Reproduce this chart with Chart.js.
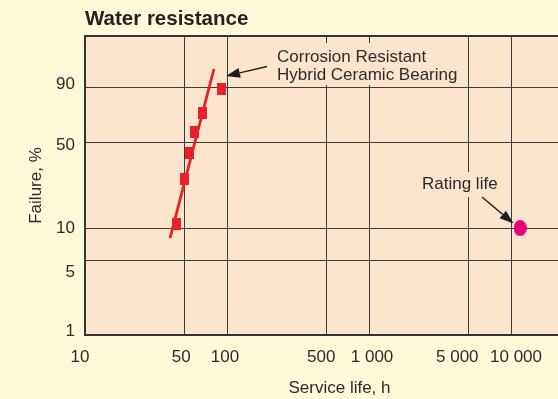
<!DOCTYPE html>
<html>
<head>
<meta charset="utf-8">
<title>Water resistance</title>
<script src="https://cdn.jsdelivr.net/npm/chart.js@4/dist/chart.umd.min.js"></script>
<style>
  html, body { margin: 0; padding: 0; background: #fff9da; overflow: hidden; }
  canvas { display: block; }
</style>
</head>
<body>
<canvas id="chart" width="602" height="399"></canvas>
<script>
// Test results: service life (h) against median-rank failure (%)
const serviceLifeH = [44, 50, 54, 59, 67, 91];
const failurePct = [10.9, 26.4, 42.1, 57.9, 73.6, 89.1];

// End points of the fitted Weibull line
const fitLifeH = [39.7, 80.9];
const fitFailurePct = [8.1, 96.9];

// Calculated rating life
const ratingLifeH = [11600];
const ratingFailurePct = [10];

// Axis ticks
const xTicks = [10, 50, 100, 500, 1000, 5000, 10000];
const yTicks = [1, 5, 10, 50, 90];

// Weibull probability paper: y = ln(-ln(1 - F))
const weibull = p => Math.log(-Math.log(1 - p / 100));
const Y_MIN = weibull(1);
const Y_MAX = 1.97;
const X_MIN = 10;
const X_MAX = 38400;

// Small nudges (px) that set each tick label off its grid line
const yLabelNudge = { 1: -4, 5: 11, 10: 0, 50: 3, 90: -3 };      // + is down
const xLabelNudge = { 10: -5, 50: -3, 100: -2, 500: -5, 1000: 3, 5000: -11, 10000: 5 }; // + is right

const INK = '#2b2b2b';
const GRID = '#3a3a3a';
const FRAME = '#333333';
const PLOT_BG = '#fde4cc';
const RED = '#e8202a';
const MAGENTA = '#e5007e';
const FONT = '"Liberation Sans", Arial, Helvetica, sans-serif';

Chart.defaults.font.family = FONT;
Chart.defaults.color = INK;

// Marker sprites
function sprite(w, h, color, round) {
  const c = document.createElement('canvas');
  c.width = w; c.height = h;
  const g = c.getContext('2d');
  g.fillStyle = color;
  if (round) {
    g.beginPath();
    g.ellipse(w / 2, h / 2, w / 2, h / 2, 0, 0, Math.PI * 2);
    g.fill();
  } else {
    g.fillRect(0, 0, w, h);
  }
  return c;
}
const squareMark = sprite(9, 12, RED, false);
const dotMark = sprite(13, 16, MAGENTA, true);

const fmtThousands = v => String(v).replace(/\B(?=(\d{3})+(?!\d))/g, ' ');

function arrow(ctx, x0, y0, x1, y1) {
  const ang = Math.atan2(y1 - y0, x1 - x0);
  const len = 14, half = 5;
  const bx = x1 - len * Math.cos(ang), by = y1 - len * Math.sin(ang);
  ctx.save();
  ctx.strokeStyle = '#1e1e1e';
  ctx.fillStyle = '#1e1e1e';
  ctx.lineWidth = 1.4;
  ctx.beginPath();
  ctx.moveTo(x0, y0);
  ctx.lineTo(bx, by);
  ctx.stroke();
  ctx.beginPath();
  ctx.moveTo(x1, y1);
  ctx.lineTo(bx - half * Math.sin(ang), by + half * Math.cos(ang));
  ctx.lineTo(bx + half * Math.sin(ang), by - half * Math.cos(ang));
  ctx.closePath();
  ctx.fill();
  ctx.restore();
}

function labelBlock(ctx, lines, x, baseline, lineStep, patch) {
  ctx.save();
  ctx.fillStyle = PLOT_BG;
  ctx.fillRect(patch[0], patch[1], patch[2], patch[3]);
  ctx.fillStyle = INK;
  ctx.font = '17px ' + FONT;
  ctx.textAlign = 'left';
  ctx.textBaseline = 'alphabetic';
  lines.forEach((t, i) => ctx.fillText(t, x, baseline + i * lineStep));
  ctx.restore();
}

const decor = {
  id: 'decor',
  beforeDraw(chart) {
    const { ctx, chartArea: a } = chart;
    ctx.save();
    ctx.fillStyle = PLOT_BG;
    ctx.fillRect(a.left, a.top, a.right - a.left, a.bottom - a.top);
    ctx.restore();
  },
  beforeDatasetsDraw(chart) {
    const { ctx, chartArea: a } = chart;
    ctx.save();
    ctx.strokeStyle = FRAME;
    ctx.lineWidth = 2;
    ctx.beginPath();
    ctx.moveTo(a.left - 1, a.top);
    ctx.lineTo(a.right, a.top);
    ctx.stroke();
    ctx.restore();
    labelBlock(ctx, ['Corrosion Resistant', 'Hybrid Ceramic Bearing'], 277, 61.5, 18.5, [273, 43, 188, 42]);
    labelBlock(ctx, ['Rating life'], 422, 189, 0, [418, 172, 83, 25]);
  },
  afterDatasetsDraw(chart) {
    const { ctx } = chart;
    arrow(ctx, 267, 66.5, 226, 76);
    arrow(ctx, 482, 197, 513.5, 223.5);
  },
  afterDraw(chart) {
    const { ctx } = chart;
    ctx.save();
    ctx.fillStyle = '#222';
    ctx.font = 'bold 20.5px ' + FONT;
    ctx.textAlign = 'left';
    ctx.textBaseline = 'alphabetic';
    ctx.fillText('Water resistance', 85, 25);
    ctx.restore();
  }
};

const axisFont = { size: 17 };

new Chart(document.getElementById('chart'), {
  type: 'scatter',
  data: {
    datasets: [
      {
        label: 'Corrosion Resistant Hybrid Ceramic Bearing',
        data: serviceLifeH.map((h, i) => ({ x: h, y: weibull(failurePct[i]) })),
        pointStyle: squareMark,
        pointRadius: 6,
        showLine: false,
        order: 0
      },
      {
        label: 'Weibull fit',
        data: fitLifeH.map((h, i) => ({ x: h, y: weibull(fitFailurePct[i]) })),
        showLine: true,
        borderColor: RED,
        borderWidth: 2.8,
        pointRadius: 0,
        order: 1
      },
      {
        label: 'Rating life',
        data: ratingLifeH.map((h, i) => ({ x: h, y: weibull(ratingFailurePct[i]) })),
        pointStyle: dotMark,
        pointRadius: 7,
        showLine: false,
        order: 0
      }
    ]
  },
  options: {
    responsive: false,
    animation: false,
    layout: { padding: { top: 36, left: 0, right: 0, bottom: 0 } },
    plugins: { legend: { display: false }, tooltip: { enabled: false } },
    scales: {
      // service life: grid lines and frame
      x: {
        type: 'logarithmic',
        position: 'bottom',
        weight: 0,
        min: X_MIN,
        max: X_MAX,
        afterBuildTicks: s => { s.ticks = xTicks.map(v => ({ value: v })); },
        afterFit: s => { s.height = 0; s.paddingLeft = 0; s.paddingRight = 0; },
        grid: { color: GRID, lineWidth: 1, drawTicks: false },
        border: { color: FRAME, width: 2 },
        ticks: { display: false }
      },
      // service life: tick labels and title
      xLab: {
        type: 'logarithmic',
        position: 'bottom',
        weight: 1,
        min: X_MIN,
        max: X_MAX,
        afterBuildTicks: s => {
          const ppd = (s.width > 0 ? s.width : 509) / Math.log10(X_MAX / X_MIN);
          s.ticks = xTicks.map(v => ({ value: v * Math.pow(10, (xLabelNudge[v] || 0) / ppd) }));
        },
        afterFit: s => { s.height = 64; s.paddingLeft = 0; s.paddingRight = 0; },
        grid: { display: false, drawTicks: false },
        border: { display: false },
        ticks: {
          color: INK,
          font: axisFont,
          padding: 12,
          maxRotation: 0,
          autoSkip: false,
          callback: (v, i) => fmtThousands(xTicks[i])
        },
        title: {
          display: true,
          text: 'Service life, h',
          color: INK,
          font: axisFont,
          padding: { top: 0, bottom: 0 }
        }
      },
      // failure: grid lines and frame
      y: {
        type: 'linear',
        position: 'left',
        weight: 0,
        bounds: 'data',
        min: Y_MIN,
        max: Y_MAX,
        afterBuildTicks: s => { s.ticks = yTicks.map(p => ({ value: weibull(p) })); },
        afterFit: s => { s.width = 0; },
        ticks: { display: false },
        grid: { color: GRID, lineWidth: 1, drawTicks: false },
        border: { color: FRAME, width: 2 }
      },
      // failure: tick labels and title
      yLab: {
        type: 'linear',
        position: 'left',
        weight: 1,
        bounds: 'data',
        min: Y_MIN,
        max: Y_MAX,
        afterBuildTicks: s => {
          const ppu = (s.height > 0 ? s.height : 299) / (Y_MAX - Y_MIN);
          s.ticks = yTicks.map(p => ({ value: weibull(p) - (yLabelNudge[p] || 0) / ppu }));
        },
        afterFit: s => { s.width = 85; },
        grid: { display: false, drawTicks: false },
        border: { display: false },
        ticks: {
          color: INK,
          font: axisFont,
          padding: 10,
          autoSkip: false,
          callback: (v, i) => String(yTicks[i])
        },
        title: {
          display: true,
          text: 'Failure, %',
          color: INK,
          font: axisFont,
          padding: { top: 26, bottom: 0 }
        }
      }
    }
  },
  plugins: [decor]
});
</script>
</body>
</html>
